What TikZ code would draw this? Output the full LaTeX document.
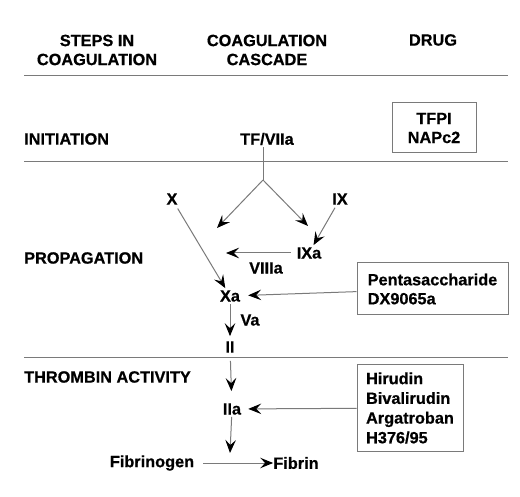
\documentclass[tikz,border=0pt]{standalone}
\usepackage{fontspec}
\setmainfont{Liberation Sans}[BoldFeatures={FakeBold=0.6}]
\usetikzlibrary{arrows.meta}
\definecolor{ln}{HTML}{7a7a7a}
\tikzset{
  lbl/.style={font=\fontsize{16.3}{19}\selectfont\bfseries, inner sep=2pt, align=center},
  drugbox/.style={lbl, draw=ln, line width=1pt},
  sep/.style={draw=ln, line width=1pt},
  arr/.style={draw=ln, line width=1pt, -{Stealth[black, length=13pt, width=10.5pt, inset=5pt]}},
  plain/.style={draw=ln, line width=1pt}
}
\begin{document}
\begin{tikzpicture}[x=1pt,y=-1pt]
\useasboundingbox (0,0) rectangle (520,497);
\fill[white] (0,0) rectangle (520,497);
% headers
\node[lbl] (h1) at (97,50) {STEPS IN\\COAGULATION};
\node[lbl] (h2) at (267,50) {COAGULATION\\CASCADE};
\node[lbl] (h3) at (433,40) {DRUG};
% separators
\draw[sep] (24,76) -- (508,76);
\draw[sep] (24,162) -- (508,162);
\draw[sep] (24,358) -- (508,358);
% step labels
\node[lbl, anchor=west, inner sep=0pt] (init) at (24,139) {INITIATION};
\node[lbl, anchor=west, inner sep=0pt] (prop) at (24,258) {PROPAGATION};
\node[lbl, anchor=west, inner sep=0pt] (thr) at (24,377) {THROMBIN ACTIVITY};
% cascade
\node[lbl] (tf) at (267,139) {TF/VIIa};
\coordinate (br) at (263,180);
\coordinate (lend) at (217,228);
\coordinate (rend) at (308,226);
\node[lbl] (X) at (172,199) {X};
\node[lbl] (IX) at (340,199) {IX};
\node[lbl] (IXa) at (309,253) {IXa};
\coordinate (vend) at (226,253);
\node[lbl] (VIIIa) at (266,268) {VIIIa};
\node[lbl] (Xa) at (230,296) {Xa};
\node[lbl] (Va) at (250,320) {Va};
\node[lbl] (II) at (230,347) {II};
\node[lbl] (IIa) at (232,409) {IIa};
\coordinate (fend) at (230,453);
\node[lbl] (fgn) at (152,463) {Fibrinogen};
\node[lbl] (fib) at (296,463) {Fibrin};
% drugs
\node[drugbox, minimum width=84pt, minimum height=50pt] (tfpi) at (434,128) {TFPI\\NAPc2};
\node[drugbox, align=left, minimum width=151pt, minimum height=52pt, inner sep=6pt] (penta) at (432.5,289) {Pentasaccharide\\DX9065a};
\node[drugbox, align=left, minimum width=106pt, minimum height=86pt, inner sep=6pt, font=\fontsize{16.3}{19.7}\selectfont\bfseries] (hir) at (410,408) {Hirudin\\Bivalirudin\\Argatroban\\H376/95};
% connectors
\draw[plain] (tf.south -| br) -- (br);
\draw[arr] (br) -- (lend);
\draw[arr] (br) -- (rend);
\draw[arr, shorten <=2pt] (X) -- (Xa);
\draw[arr, shorten <=1pt] (IX) -- (IXa);
\draw[arr, shorten <=4pt] (IXa) -- (vend);
\draw[arr, shorten >=6pt] (penta) -- (Xa);
\draw[arr, shorten >=3pt] (Xa) -- (II);
\draw[arr, shorten <=6pt, shorten >=10pt] (II) -- (IIa);
\draw[arr, shorten >=5pt] (hir) -- (IIa);
\draw[arr] (IIa) -- (fend);
\draw[arr, shorten <=7pt, shorten >=-2pt] (fgn) -- (fib);
\end{tikzpicture}
\end{document}
